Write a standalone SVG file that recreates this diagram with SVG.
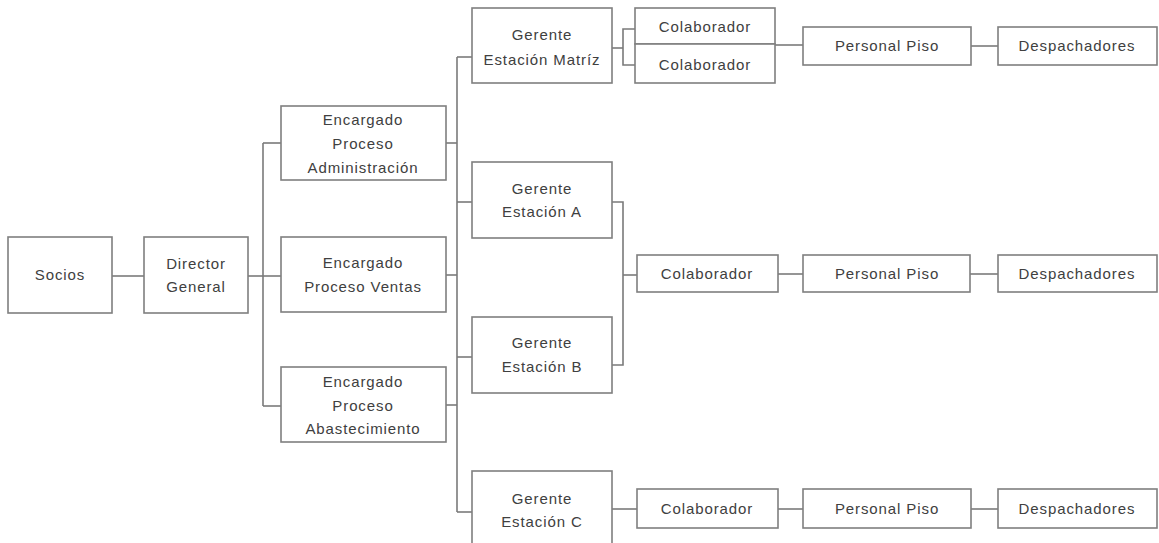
<svg xmlns="http://www.w3.org/2000/svg" width="1159" height="543" viewBox="0 0 1159 543">
  <style>
    .box { fill: #ffffff; stroke: #7f7f7f; stroke-width: 1.6; }
    .lbl { font-family: "Liberation Sans", Arial, sans-serif; font-size: 15px; letter-spacing: 0.9px; fill: #404040; text-anchor: middle; }
    .conn { fill: none; stroke: #7a7a7a; stroke-width: 1.6; }
  </style>
  <rect x="0" y="0" width="1159" height="543" fill="#ffffff"/>

  <!-- connectors -->
  <g id="connectors" class="conn">
    <line x1="112" y1="276" x2="144" y2="276"/>
    <line x1="248" y1="276" x2="263" y2="276"/>
    <line x1="263" y1="143" x2="263" y2="406"/>
    <line x1="263" y1="143" x2="281" y2="143"/>
    <line x1="263" y1="276" x2="281" y2="276"/>
    <line x1="263" y1="406" x2="281" y2="406"/>
    <line x1="446" y1="143" x2="457" y2="143"/>
    <line x1="446" y1="275" x2="457" y2="275"/>
    <line x1="446" y1="405" x2="457" y2="405"/>
    <line x1="457" y1="57" x2="457" y2="512"/>
    <line x1="457" y1="57" x2="472" y2="57"/>
    <line x1="457" y1="202" x2="472" y2="202"/>
    <line x1="457" y1="357" x2="472" y2="357"/>
    <line x1="457" y1="512" x2="472" y2="512"/>
    <!-- Matriz to its two collaborators -->
    <line x1="612" y1="48" x2="623" y2="48"/>
    <polyline points="635,29 623,29 623,65 635,65"/>
    <line x1="775" y1="45" x2="803" y2="45"/>
    <line x1="971" y1="46" x2="998" y2="46"/>
    <!-- stations A and B share one collaborator -->
    <polyline points="612,202 623,202 623,365 612,365"/>
    <line x1="623" y1="275" x2="637" y2="275"/>
    <line x1="778" y1="274" x2="803" y2="274"/>
    <line x1="970" y1="274" x2="998" y2="274"/>
    <!-- station C -->
    <line x1="612" y1="509" x2="637" y2="509"/>
    <line x1="778" y1="509" x2="803" y2="509"/>
    <line x1="971" y1="509" x2="998" y2="509"/>
  </g>

  <g id="socios">
    <rect class="box" x="8" y="237" width="104" height="76"/>
    <text class="lbl" x="60" y="280">Socios</text>
  </g>
  <g id="director">
    <rect class="box" x="144" y="237" width="104" height="76"/>
    <text class="lbl" x="196" y="269">Director</text>
    <text class="lbl" x="196" y="292">General</text>
  </g>

  <g id="enc-admin">
    <rect class="box" x="281" y="106" width="165" height="74"/>
    <text class="lbl" x="363" y="125">Encargado</text>
    <text class="lbl" x="363" y="149">Proceso</text>
    <text class="lbl" x="363" y="173">Administración</text>
  </g>
  <g id="enc-ventas">
    <rect class="box" x="281" y="237" width="165" height="75"/>
    <text class="lbl" x="363" y="268">Encargado</text>
    <text class="lbl" x="363" y="292">Proceso Ventas</text>
  </g>
  <g id="enc-abast">
    <rect class="box" x="281" y="367" width="165" height="75"/>
    <text class="lbl" x="363" y="387">Encargado</text>
    <text class="lbl" x="363" y="411">Proceso</text>
    <text class="lbl" x="363" y="434">Abastecimiento</text>
  </g>

  <g id="ger-matriz">
    <rect class="box" x="472" y="8" width="140" height="75"/>
    <text class="lbl" x="542" y="40">Gerente</text>
    <text class="lbl" x="542" y="65">Estación Matríz</text>
  </g>
  <g id="ger-a">
    <rect class="box" x="472" y="162" width="140" height="76"/>
    <text class="lbl" x="542" y="194">Gerente</text>
    <text class="lbl" x="542" y="217">Estación A</text>
  </g>
  <g id="ger-b">
    <rect class="box" x="472" y="317" width="140" height="76"/>
    <text class="lbl" x="542" y="348">Gerente</text>
    <text class="lbl" x="542" y="372">Estación B</text>
  </g>
  <g id="ger-c">
    <rect class="box" x="472" y="471" width="140" height="78"/>
    <text class="lbl" x="542" y="504">Gerente</text>
    <text class="lbl" x="542" y="527">Estación C</text>
  </g>

  <!-- Matriz branch -->
  <g id="colab-m1">
    <rect class="box" x="635" y="8" width="140" height="36"/>
    <text class="lbl" x="705" y="32">Colaborador</text>
  </g>
  <g id="colab-m2">
    <rect class="box" x="635" y="44" width="140" height="39"/>
    <text class="lbl" x="705" y="70">Colaborador</text>
  </g>
  <g id="piso-m">
    <rect class="box" x="803" y="27" width="168" height="38"/>
    <text class="lbl" x="887" y="51">Personal Piso</text>
  </g>
  <g id="desp-m">
    <rect class="box" x="998" y="27" width="159" height="38"/>
    <text class="lbl" x="1077" y="51">Despachadores</text>
  </g>

  <!-- A/B branch -->
  <g id="colab-ab">
    <rect class="box" x="637" y="255" width="141" height="37"/>
    <text class="lbl" x="707" y="279">Colaborador</text>
  </g>
  <g id="piso-ab">
    <rect class="box" x="803" y="255" width="167" height="37"/>
    <text class="lbl" x="887" y="279">Personal Piso</text>
  </g>
  <g id="desp-ab">
    <rect class="box" x="998" y="255" width="159" height="37"/>
    <text class="lbl" x="1077" y="279">Despachadores</text>
  </g>

  <!-- C branch -->
  <g id="colab-c">
    <rect class="box" x="637" y="489" width="141" height="39"/>
    <text class="lbl" x="707" y="514">Colaborador</text>
  </g>
  <g id="piso-c">
    <rect class="box" x="803" y="489" width="168" height="39"/>
    <text class="lbl" x="887" y="514">Personal Piso</text>
  </g>
  <g id="desp-c">
    <rect class="box" x="998" y="489" width="159" height="39"/>
    <text class="lbl" x="1077" y="514">Despachadores</text>
  </g>
</svg>
